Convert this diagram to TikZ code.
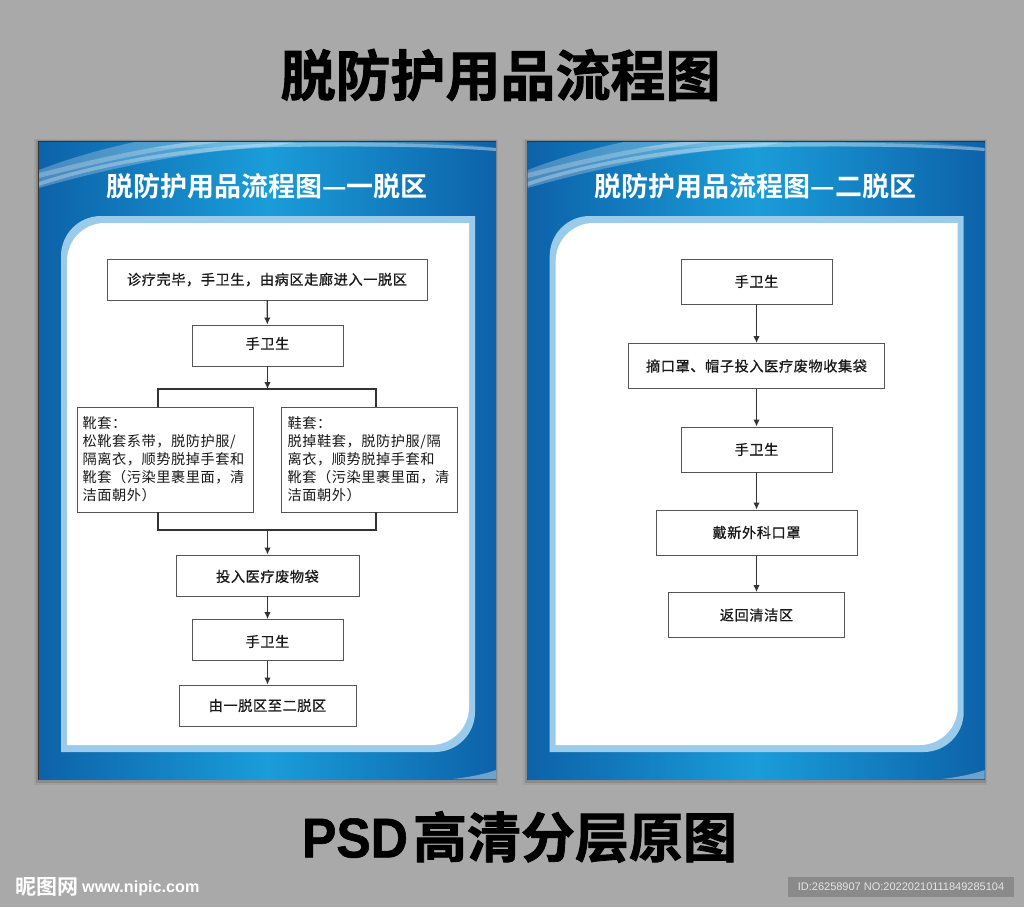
\documentclass[tikz,border=0pt]{standalone}
\usepackage{fontspec}
\usepackage{tikz}
\usetikzlibrary{arrows.meta}
\newfontfamily\cjk[LetterSpace=4,BoldFont={Noto Sans CJK SC},BoldFeatures={FakeBold=0.7}]{Noto Sans CJK SC}
\newfontfamily\cjkhead[BoldFont={Noto Sans CJK SC Bold}]{Noto Sans CJK SC}
\newfontfamily\cjkheavy[BoldFont={Noto Sans CJK SC Bold},BoldFeatures={FakeBold=1.5}]{Noto Sans CJK SC}
\newfontfamily\psdfont[FakeStretch=0.92,BoldFeatures={FakeStretch=0.92,FakeBold=1}]{Liberation Sans}
\setmainfont{Liberation Sans}
\definecolor{pagegray}{HTML}{A9A9A9}
\definecolor{panelblue}{HTML}{0D62A9}
\definecolor{panelglow}{HTML}{1A9DD9}
\definecolor{framelight}{HTML}{9BCBEB}
\definecolor{linedark}{HTML}{333333}
\definecolor{boxline}{HTML}{555555}
\definecolor{idgray}{HTML}{8A8A8A}
\tikzset{
  flowbox/.style={draw=boxline, line width=0.9pt, fill=white, inner sep=0pt, align=center,
    font=\cjk\bfseries\fontsize{14.2}{18}\selectfont, text=black!90},
  notebox/.style={flowbox, align=left, minimum width=176pt, minimum height=105pt,
    font=\cjk\fontsize{14.2}{18}\selectfont},
  flowline/.style={linedark, line width=1.2pt},
  flowarrow/.style={flowline, -{Latex[length=7pt,width=6.5pt]}},
  paneltitle/.style={white, inner sep=0pt, font=\cjkhead\bfseries\fontsize{27}{27}\selectfont},
  bigtitle/.style={black, inner sep=0pt, font=\cjkheavy\bfseries\fontsize{55}{55}\selectfont},
}
\begin{document}
\begin{tikzpicture}[x=1pt,y=-1pt]
    \useasboundingbox (0,0) rectangle (1024,907);
    \fill[pagegray] (0,0) rectangle (1024,907);

    \foreach \panelx in {0,488.7} {
        \begin{scope}[shift={(\panelx,0)}]
            \fill[black, opacity=0.06] (34,139) rectangle (498,785);
            \fill[black, opacity=0.12] (36,140) rectangle (497,783);
            \fill[black!80] (38,141) rectangle (496,780);
            \shade[left color=panelblue, right color=panelblue, middle color=panelglow] (39,142) rectangle (496,779);
            \begin{scope}
                \clip (39,142) rectangle (496,779);
                \fill[white, opacity=0.25] (39,170) .. controls (70,158) and (105,148) .. (140,141) -- (300,141) -- (276,146) .. controls (200,150) and (120,165) .. (39,188) -- cycle;
                \fill[white, opacity=0.25] (39,173) .. controls (90,160) and (140,148) .. (200,141) -- (230,141) .. controls (150,150) and (90,165) .. (39,178) -- cycle;
                \fill[white, opacity=0.3] (39,182) .. controls (90,165) and (180,146) .. (280,143) .. controls (360,141) and (440,144) .. (496,148) -- (496,151) .. controls (430,146) and (360,146) .. (280,147) .. controls (190,150) and (100,165) .. (39,186) -- cycle;
                \fill[white, opacity=0.15] (150,148) .. controls (180,143) and (200,141) .. (230,141) -- (420,141) .. controls (450,143) and (475,145) .. (496,148) -- (496,151) .. controls (420,145) and (300,146) .. (150,148) -- cycle;
                \fill[white, opacity=0.4] (453,779) .. controls (470,777) and (485,774) .. (496,770) -- (496,779) -- cycle;
            \end{scope}
            \fill[framelight] (61,752) [rounded corners=40pt] -- (61,216) [sharp corners] -- (475,216) [rounded corners=40pt] -- (475,752) [sharp corners] -- cycle;
            \fill[white] (67,745) [rounded corners=38pt] -- (67,223) [sharp corners] -- (469,223) [rounded corners=38pt] -- (469,745) [sharp corners] -- cycle;
        \end{scope}
    }

    \node[bigtitle] (maintitle) at (500.5,75) {脱防护用品流程图};
    \node[bigtitle, font=\cjkheavy\bfseries\fontsize{54}{54}\selectfont] (subtitle) at (519.5,837) {{\psdfont\bfseries\fontsize{56}{56}\selectfont PSD}\hspace{5pt}高清分层原图};

    \node[paneltitle] (titleone) at (267,186) {脱防护用品流程图—一脱区};
    \node[paneltitle] (titletwo) at (755.5,186) {脱防护用品流程图—二脱区};

    \node[flowbox, minimum width=320pt, minimum height=41pt] (enterone) at (267,279.5) {诊疗完毕，手卫生，由病区走廊进入一脱区};
    \node[flowbox, minimum width=151pt, minimum height=41pt, text depth=5pt] (handone) at (267.5,345.5) {手卫生};
    \node[notebox, text width=165pt] (bootbox) at (165,459.5) {靴套：\\松靴套系带，脱防护服/\\隔离衣，顺势脱掉手套和\\靴套（污染里裹里面，清\\洁面朝外）};
    \node[notebox, text width=163pt] (shoebox) at (369,459.5) {鞋套：\\脱掉鞋套，脱防护服/隔\\离衣，顺势脱掉手套和\\靴套（污染里裹里面，清\\洁面朝外）};
    \node[flowbox, minimum width=183pt, minimum height=41pt, text height=14pt] (wastebag) at (267.5,575.5) {投入医疗废物袋};
    \node[flowbox, minimum width=151pt, minimum height=41pt, text height=15pt] (handtwo) at (267.5,640) {手卫生};
    \node[flowbox, minimum width=177pt, minimum height=41pt] (leaveone) at (267.5,705.5) {由一脱区至二脱区};

    \coordinate (splitmid) at (267.5,389);
    \coordinate (splitleft) at (158,389);
    \coordinate (splitright) at (376,389);
    \coordinate (joinmid) at (267.5,530);
    \coordinate (joinleft) at (158,530);
    \coordinate (joinright) at (376,530);

    \draw[flowarrow] (enterone) -- (handone);
    \draw[flowarrow] (handone) -- (splitmid);
    \draw[flowline] (bootbox.north -| splitleft) -- (splitleft) -- (splitright) -- (shoebox.north -| splitright);
    \draw[flowline] (bootbox.south -| joinleft) -- (joinleft) -- (joinright) -- (shoebox.south -| joinright);
    \draw[flowarrow] (joinmid) -- (wastebag);
    \draw[flowarrow] (wastebag) -- (handtwo);
    \draw[flowarrow] (handtwo) -- (leaveone);

    \node[flowbox, minimum width=151pt, minimum height=45pt] (handthree) at (756.5,281.5) {手卫生};
    \node[flowbox, minimum width=256pt, minimum height=45pt] (maskoff) at (756.5,366) {摘口罩、帽子投入医疗废物收集袋};
    \node[flowbox, minimum width=151pt, minimum height=45pt] (handfour) at (756.5,449.5) {手卫生};
    \node[flowbox, minimum width=201pt, minimum height=45pt] (maskon) at (756.5,532.5) {戴新外科口罩};
    \node[flowbox, minimum width=176pt, minimum height=45pt] (cleanzone) at (756.5,615) {返回清洁区};

    \draw[flowarrow] (handthree) -- (maskoff);
    \draw[flowarrow] (maskoff) -- (handfour);
    \draw[flowarrow] (handfour) -- (maskon);
    \draw[flowarrow] (maskon) -- (cleanzone);

    \node[white, inner sep=0pt, anchor=west, font=\cjkhead\bfseries\fontsize{21}{21}\selectfont] (logoname) at (15,887) {昵图网};
    \node[white, inner sep=0pt, anchor=west, font=\bfseries\fontsize{16.2}{16.2}\selectfont] (logourl) at (82,888) {www.nipic.com};
    \fill[idgray] (788,877) rectangle (1014,897);
    \node[black!10, inner sep=0pt, font=\fontsize{11}{11}\selectfont] (imageid) at (901,887) {ID:26258907 NO:20220210111849285104};
\end{tikzpicture}
\end{document}
